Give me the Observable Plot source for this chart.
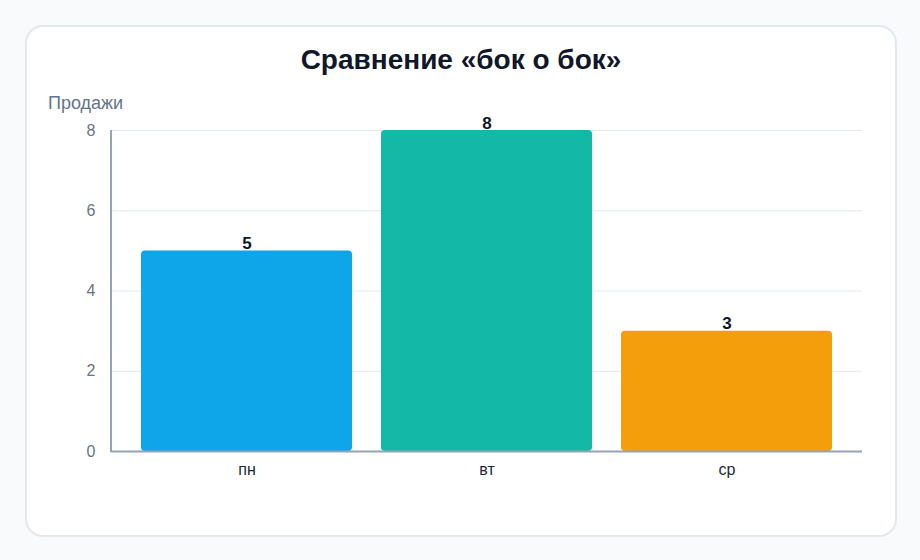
<!DOCTYPE html>
<html><head><meta charset="utf-8">
<script src="https://cdn.jsdelivr.net/npm/d3@7"></script>
<script src="https://cdn.jsdelivr.net/npm/@observablehq/plot@0.6"></script>
<style>
html,body{margin:0;padding:0;background:#f8fafc;font-family:"Liberation Sans",Arial,sans-serif;}
#card{position:absolute;left:25px;top:25px;width:868px;height:508px;background:#fff;border:2px solid #e2e8f0;border-radius:18px;box-sizing:content-box;}
#title{position:absolute;left:0;right:0;top:17px;text-align:center;font-size:28px;font-weight:bold;color:#0f172a;}
#ylab{position:absolute;left:21px;top:66px;font-size:18px;color:#64748b;}
#chart{position:absolute;left:0;top:88px;}
#chart svg g[aria-label="y-axis tick label"] text{font-size:16px !important;}
#chart svg g[aria-label="x-axis tick label"] text{font-size:16px !important;}
</style></head>
<body>
<div id="card"><div id="title">Сравнение «бок о бок»</div><div id="ylab">Продажи</div><div id="chart"></div></div>
<script>
const days = ["пн","вт","ср"];
const sales = [5, 8, 3];
const colors = ["#0ea5e9", "#14b8a6", "#f59e0b"];
const yTicks = [0, 2, 4, 6, 8];
const data = days.map((d,i)=>({day:d, value:sales[i]}));
const plot = Plot.plot({
  width: 868, height: 390,
  marginLeft: 84, marginRight: 33, marginTop: 15, marginBottom: 54,
  style: {fontFamily: '"Liberation Sans", Arial, sans-serif', fontSize: "16px", background: "transparent"},
  x: {domain: days, padding: 0.12, label: null},
  y: {domain: [0, 8], ticks: yTicks, label: null},
  color: {domain: days, range: colors},
  marks: [
    Plot.gridY(yTicks, {stroke: "#e2e8f0", strokeOpacity: 1}),
    Plot.barY(data, {x: "day", y: "value", fill: "day", rx: 4}),
    Plot.text(data, {x: "day", y: "value", text: d => String(d.value), lineAnchor: "bottom", dy: -2, fontSize: 17, fontWeight: "bold", fill: "#0f172a"}),
    Plot.axisY(yTicks, {tickSize: 0, tickPadding: 16, fontSize: 16, fill: "#64748b"}),
    Plot.axisX({tickSize: 0, tickPadding: 12, fontSize: 16, fill: "#1e293b"}),
    Plot.ruleY([0], {stroke: "#94a3b8", strokeWidth: 2})
  ]
});
// left axis line along the y scale range
const xr = plot.scale("x").range, yr = plot.scale("y").range;
d3.select(plot).append("line")
  .attr("x1", xr[0]).attr("x2", xr[0])
  .attr("y1", yr[0] + 1).attr("y2", yr[1])
  .attr("stroke", "#94a3b8").attr("stroke-width", 2);
d3.select(plot).selectAll('g[aria-label$="tick label"]').attr("font-size", 16);
document.getElementById("chart").appendChild(plot);
</script>
</body></html>
